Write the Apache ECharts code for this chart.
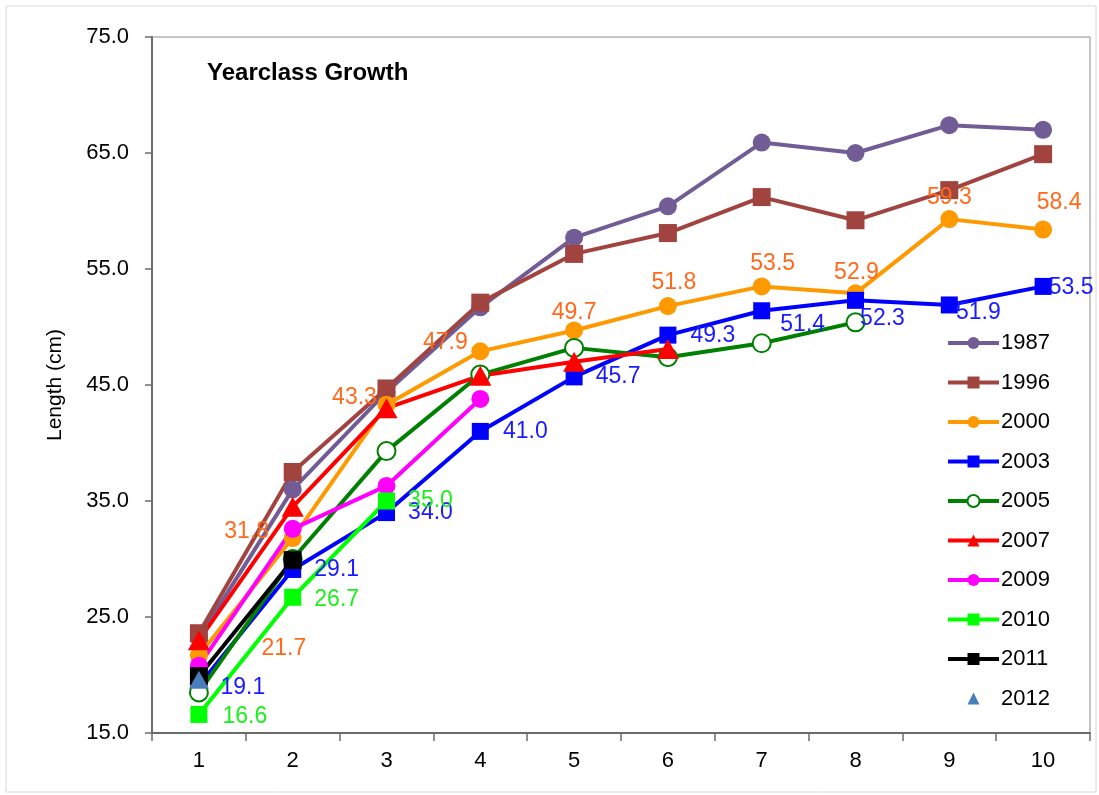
<!DOCTYPE html>
<html>
<head>
<meta charset="utf-8">
<script src="https://cdn.jsdelivr.net/npm/echarts@6/dist/echarts.min.js"></script>
<style>html,body{margin:0;padding:0;background:#fff}#c{width:1099px;height:795px}</style>
</head>
<body>
<div id="c"></div>
<script>
// ---- data ----
var categories = ['1','2','3','4','5','6','7','8','9','10'];
var yTicks = [15, 25, 35, 45, 55, 65, 75];
var seriesNames = ['1987','1996','2000','2003','2005','2007','2009','2010','2011','2012'];
var s1987 = [23.2, 36.0, 44.4, 51.7, 57.7, 60.4, 65.9, 65.0, 67.4, 67.0];
var s1996 = [23.6, 37.5, 44.7, 52.1, 56.3, 58.1, 61.2, 59.2, 61.8, 64.9];
var s2000 = [21.7, 31.8, 43.3, 47.9, 49.7, 51.8, 53.5, 52.9, 59.3, 58.4];
var s2003 = [19.1, 29.1, 34.0, 41.0, 45.7, 49.3, 51.4, 52.3, 51.9, 53.5];
var s2005 = [18.5, 30.0, 39.3, 45.9, 48.2, 47.4, 48.6, 50.4];
var s2007 = [23.0, 34.5, 43.0, 45.8, 47.0, 48.1];
var s2009 = [20.8, 32.6, 36.3, 43.8];
var s2010 = [16.6, 26.7, 35.0];
var s2011 = [19.9, 29.9];
var s2012 = [19.6];

// ---- styles (kept separate from the data) ----
var FONT = 'Liberation Sans, Arial, sans-serif';
var styles = {
  '1987': {color:'#725C95', symbol:'circle', size:18},
  '1996': {color:'#A1443F', symbol:'rect', size:18},
  '2000': {color:'#FF9900', symbol:'circle', size:18},
  '2003': {color:'#0000FF', symbol:'rect', size:17},
  '2005': {color:'#008000', symbol:'emptyCircle', size:18},
  '2007': {color:'#FF0000', symbol:'triangle', size:[22,20]},
  '2009': {color:'#FF00FF', symbol:'circle', size:18},
  '2010': {color:'#00FF00', symbol:'rect', size:17},
  '2011': {color:'#000000', symbol:'rect', size:18},
  '2012': {color:'#4A7EBB', symbol:'triangle', size:[20,18], noLine:true}
};
// data-label placement (offset of label centre from point, px)
var labelSpec = {
  '2000': {color:'#FF6A1A', offsets:[[85,-7],[-46,-6],[-32,-7],[-35,-9],[0,-18],[6,-23],[11,-23],[1,-21],[0,-21],[16,-27]]},
  '2003': {color:'#1A1AFF', offsets:[[44,2],[44,0],[44,0],[45,0],[44,0],[45,1],[41,14],[27,18],[29,8],[28,1]]},
  '2010': {color:'#1AF01A', offsets:[[46,2],[44,2],[44,0]]}
};
var allData = {'1987':s1987,'1996':s1996,'2000':s2000,'2003':s2003,'2005':s2005,'2007':s2007,'2009':s2009,'2010':s2010,'2011':s2011,'2012':s2012};

var series = seriesNames.map(function(name){
  var st = styles[name];
  var ls = labelSpec[name];
  var data = allData[name].map(function(v, i){
    if (!ls) return v;
    return {value: v, label: {show: true, position: 'inside', offset: ls.offsets[i],
      color: ls.color, fontSize: 23, fontFamily: FONT,
      formatter: function(p){ return Number(p.value).toFixed(1); }}};
  });
  var empty = st.symbol === 'emptyCircle';
  return {
    name: name,
    type: 'line',
    data: data,
    symbol: st.symbol,
    symbolSize: st.size,
    showAllSymbol: true,
    color: st.color,
    itemStyle: {color: st.color, borderColor: st.color, borderWidth: empty ? 2.2 : 0},
    lineStyle: {color: st.color, width: st.noLine ? 0 : 4, opacity: st.noLine ? 0 : 1},
    emphasis: {disabled: true},
    animation: false,
    z: 2
  };
});

var chart = echarts.init(document.getElementById('c'), null, {renderer: 'canvas'});
chart.setOption({
  backgroundColor: '#ffffff',
  animation: false,
  graphic: [{
    type: 'rect', shape: {x: 6, y: 6, width: 1090, height: 786},
    style: {fill: 'none', stroke: '#d9d9d9', lineWidth: 1}, z: -1
  }],
  title: {
    text: 'Yearclass Growth', left: 202, top: 56,
    textStyle: {fontFamily: FONT, fontWeight: 'bold', fontSize: 24, color: '#000'}
  },
  legend: {
    orient: 'vertical', left: 941, top: 327,
    itemWidth: 51, itemHeight: 15, itemGap: 17.5,
    lineStyle: {width: 4},
    textStyle: {fontFamily: FONT, fontSize: 22, color: '#000', padding: [0,0,0,-3]},
    data: seriesNames,
    selectedMode: false
  },
  grid: {left: 152, right: 9, top: 37, bottom: 62, show: true, borderColor: '#8c8c8c', borderWidth: 1, backgroundColor: 'transparent'},
  xAxis: {
    type: 'category', data: categories, boundaryGap: true,
    axisLine: {lineStyle: {color: '#6b6b6b', width: 2}},
    axisTick: {show: true, length: 8, interval: 0, lineStyle: {color: '#6b6b6b', width: 1.5}},
    axisLabel: {fontFamily: FONT, fontSize: 22, color: '#000', margin: 17, interval: 0},
    splitLine: {show: false}
  },
  yAxis: {
    type: 'value', min: yTicks[0], max: yTicks[yTicks.length-1], interval: 10,
    name: 'Length (cm)', nameLocation: 'middle', nameGap: 86, nameRotate: 90,
    nameTextStyle: {fontFamily: FONT, fontSize: 21, color: '#000'},
    axisLine: {show: true, lineStyle: {color: '#6b6b6b', width: 2}},
    axisTick: {show: true, length: 7, lineStyle: {color: '#6b6b6b', width: 1.5}},
    axisLabel: {fontFamily: FONT, fontSize: 22, color: '#000', margin: 23, formatter: function(v){ return v.toFixed(1); }},
    splitLine: {show: false}
  },
  series: series
});
</script>
</body>
</html>
